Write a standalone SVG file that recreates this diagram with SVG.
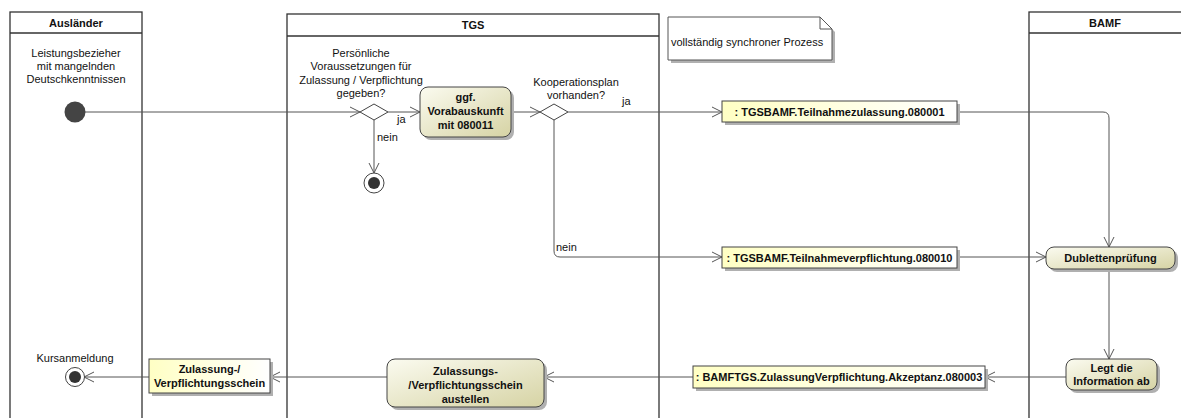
<svg xmlns="http://www.w3.org/2000/svg" width="1181" height="418" viewBox="0 0 1181 418">
<defs>
<linearGradient id="gAct" x1="0" y1="0" x2="1" y2="1">
<stop offset="0" stop-color="#fbfbf0"/>
<stop offset="1" stop-color="#d6d3a4"/>
</linearGradient>
<linearGradient id="gObj" x1="0" y1="0" x2="1" y2="0">
<stop offset="0" stop-color="#ffffc4"/>
<stop offset="1" stop-color="#ffffff"/>
</linearGradient>
<marker id="arr" markerWidth="12" markerHeight="12" refX="10" refY="6" orient="auto" markerUnits="userSpaceOnUse">
<path d="M0,1 L10,6 L0,11" fill="none" stroke="#555" stroke-width="1"/>
</marker>
<style>
text{font-family:"Liberation Sans",Arial,sans-serif;font-size:11px;fill:#111}
.b{font-weight:bold}
.c{text-anchor:middle}
.lane{fill:none;stroke:#333;stroke-width:1.3}
.act{fill:url(#gAct);stroke:#444;stroke-width:1}
.obj{fill:url(#gObj);stroke:#444;stroke-width:1}
.sh{fill:#b0b0b0}
.ln{fill:none;stroke:#555;stroke-width:1}
.dia{fill:#fff;stroke:#444;stroke-width:1}
</style>
</defs>
<rect width="1181" height="418" fill="#fff"/>

<g id="lane-auslaender">
<rect class="lane" x="10" y="12" width="132" height="420"/>
<line class="lane" x1="10" y1="33" x2="142" y2="33"/>
<text class="b c" x="76" y="27">Ausländer</text>
</g>
<g id="lane-tgs">
<rect class="lane" x="287" y="14" width="372" height="420"/>
<line class="lane" x1="287" y1="36" x2="659" y2="36"/>
<text class="b c" x="473" y="29">TGS</text>
</g>
<g id="lane-bamf">
<rect class="lane" x="1029" y="12" width="170" height="420"/>
<line class="lane" x1="1029" y1="33" x2="1199" y2="33"/>
<text class="b c" x="1105" y="27">BAMF</text>
</g>

<g id="note">
<polygon class="sh" points="671,20 823,20 835,32 835,63 671,63"/>
<polygon points="668,17 820,17 832,29 832,60 668,60" fill="#fff" stroke="#555"/>
<polyline points="820,17 820,29 832,29" fill="none" stroke="#555"/>
<text x="671" y="46">vollständig synchroner Prozess</text>
</g>

<g id="connectors">
<line class="ln" x1="85" y1="112" x2="360" y2="112" marker-end="url(#arr)"/>
<line class="ln" x1="388" y1="112" x2="420" y2="112" marker-end="url(#arr)"/>
<line class="ln" x1="374" y1="120" x2="374" y2="173" marker-end="url(#arr)"/>
<line class="ln" x1="511" y1="112" x2="540" y2="112" marker-end="url(#arr)"/>
<line class="ln" x1="568" y1="112" x2="722" y2="112" marker-end="url(#arr)"/>
<path class="ln" d="M957,112 H1103 Q1109,112 1109,118 V247" marker-end="url(#arr)"/>
<path class="ln" d="M554,120 V251 Q554,257 560,257 H722" marker-end="url(#arr)"/>
<line class="ln" x1="957" y1="257" x2="1046" y2="257" marker-end="url(#arr)"/>
<line class="ln" x1="1109" y1="269" x2="1109" y2="359" marker-end="url(#arr)"/>
<line class="ln" x1="1066" y1="377" x2="985" y2="377" marker-end="url(#arr)"/>
<line class="ln" x1="693" y1="377" x2="544" y2="377" marker-end="url(#arr)"/>
<line class="ln" x1="387" y1="377" x2="270" y2="377" marker-end="url(#arr)"/>
<line class="ln" x1="149" y1="377" x2="84" y2="377" marker-end="url(#arr)"/>
<text x="397" y="123">ja</text>
<text x="377" y="141">nein</text>
<text x="622" y="105">ja</text>
<text x="556" y="251">nein</text>
</g>

<g id="start">
<text class="c" x="76" y="57">Leistungsbezieher</text>
<text class="c" x="76" y="70">mit mangelnden</text>
<text class="c" x="76" y="83">Deutschkenntnissen</text>
<circle cx="75" cy="112" r="10.5" fill="#444"/>
</g>

<g id="decision1">
<text class="c" x="361" y="57">Persönliche</text>
<text class="c" x="361" y="70">Voraussetzungen für</text>
<text class="c" x="361" y="84">Zulassung / Verpflichtung</text>
<text class="c" x="361" y="97">gegeben?</text>
<polygon class="dia" points="360,112 374,104 388,112 374,120"/>
</g>

<g id="final1">
<circle cx="374" cy="183" r="10" fill="#fff" stroke="#444"/>
<circle cx="374" cy="183" r="6" fill="#333"/>
</g>

<g id="action-vorab">
<rect class="sh" x="423" y="90" width="91" height="50" rx="8"/>
<rect class="act" x="420" y="87" width="91" height="50" rx="8"/>
<text class="b c" x="465.5" y="101">ggf.</text>
<text class="b c" x="465.5" y="115">Vorabauskunft</text>
<text class="b c" x="465.5" y="129">mit 080011</text>
</g>

<g id="decision2">
<text class="c" x="576" y="86">Kooperationsplan</text>
<text class="c" x="576" y="99">vorhanden?</text>
<polygon class="dia" points="540,112 554,104 568,112 554,120"/>
</g>

<g id="obj-zulassung">
<rect class="sh" x="725" y="104" width="235" height="21"/>
<rect class="obj" x="722" y="101" width="235" height="21"/>
<text class="b c" x="839.5" y="115.5">: TGSBAMF.Teilnahmezulassung.080001</text>
</g>

<g id="obj-verpflichtung">
<rect class="sh" x="725" y="250" width="235" height="21"/>
<rect class="obj" x="722" y="247" width="235" height="21"/>
<text class="b c" x="839.5" y="261.5">: TGSBAMF.Teilnahmeverpflichtung.080010</text>
</g>

<g id="action-dubletten">
<rect class="sh" x="1049" y="250" width="129" height="22" rx="8"/>
<rect class="act" x="1046" y="247" width="129" height="22" rx="8"/>
<text class="b c" x="1110.5" y="262">Dublettenprüfung</text>
</g>

<g id="action-legt">
<rect class="sh" x="1069" y="362" width="91" height="31" rx="8"/>
<rect class="act" x="1066" y="359" width="91" height="31" rx="8"/>
<text class="b c" x="1111.5" y="372">Legt die</text>
<text class="b c" x="1111.5" y="385">Information ab</text>
</g>

<g id="obj-akzeptanz">
<rect class="sh" x="696" y="369" width="292" height="22"/>
<rect class="obj" x="693" y="366" width="292" height="22"/>
<text class="b c" x="839" y="381">: BAMFTGS.ZulassungVerpflichtung.Akzeptanz.080003</text>
</g>

<g id="action-austellen">
<rect class="sh" x="390" y="362" width="157" height="48" rx="8"/>
<rect class="act" x="387" y="359" width="157" height="48" rx="8"/>
<text class="b c" x="465.5" y="375">Zulassungs-</text>
<text class="b c" x="465.5" y="389">/Verpflichtungsschein</text>
<text class="b c" x="465.5" y="403">austellen</text>
</g>

<g id="obj-schein">
<rect class="sh" x="152" y="362" width="121" height="34"/>
<rect class="obj act" x="149" y="359" width="121" height="34"/>
<text class="b c" x="209.5" y="373">Zulassung-/</text>
<text class="b c" x="209.5" y="387">Verpflichtungsschein</text>
</g>

<g id="final-kurs">
<text class="c" x="75" y="362">Kursanmeldung</text>
<circle cx="75" cy="377" r="9.5" fill="#fff" stroke="#444"/>
<circle cx="75" cy="377" r="6" fill="#333"/>
</g>
</svg>
